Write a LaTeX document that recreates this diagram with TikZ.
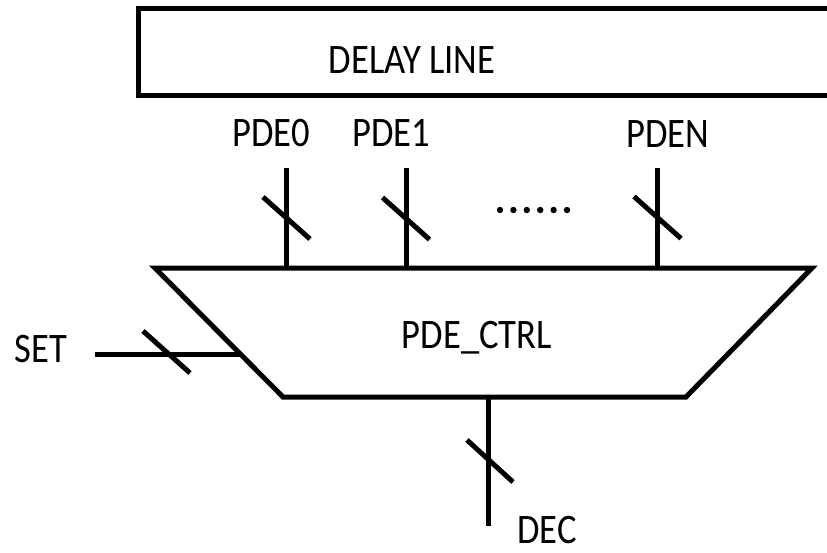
\documentclass[tikz,border=0pt]{standalone}
\usepackage{fontspec}
\setmainfont{Carlito}
\newfontfamily\labelfont[FakeStretch=0.87]{Carlito}
\tikzset{
  wire/.style={line width=5pt},
  busmark/.style={line width=5pt},
  lbl/.style={font=\labelfont\fontsize{42}{42}\selectfont, inner sep=0pt, anchor=base},
}
\begin{document}
\begin{tikzpicture}[x=1pt,y=-1pt]
\useasboundingbox (0,0) rectangle (827,552);

% delay line block, running off the right edge
\draw[wire] (138,8) rectangle (850,95);
\node[lbl] (dl) at (412,73) {DELAY LINE};

% control block outline
\coordinate (tl) at (155,268);
\coordinate (tr) at (812,268);
\coordinate (br) at (686,397);
\coordinate (bl) at (283,397);
\draw[wire, line join=miter] (tl) -- (tr) -- (br) -- (bl) -- cycle;
\node[lbl] (ctrl) at (477,348) {PDE\_CTRL};

% output buses
\node[lbl] (p0) at (271,146) {PDE0};
\node[lbl] (p1) at (391,146) {PDE1};
\node[lbl] (pn) at (668,147) {PDEN};
\coordinate (p0a) at (286.5,168); \coordinate (p0b) at (286.5,268);
\coordinate (p1a) at (406,168);   \coordinate (p1b) at (406,268);
\coordinate (pna) at (657.5,168); \coordinate (pnb) at (657.5,268);
\draw[wire] (p0a) -- (p0b);
\draw[wire] (p1a) -- (p1b);
\draw[wire] (pna) -- (pnb);
\foreach \c in {(286.5,218),(406,218.5),(657.5,217.5)}
  \draw[busmark] \c ++(-23.5,-21) -- ++(47,42);

% ellipsis between buses
\foreach \i in {0,...,5}
  \fill (500+\i*13.4,210) circle (3.2pt);

% SET input bus
\node[lbl] (set) at (41,362) {SET};
\coordinate (seta) at (95,354);
\coordinate (setb) at (240,354);
\draw[wire] (seta) -- (setb);
\draw[busmark] (166.5,352) ++(-23.5,-21) -- ++(47,42);

% DEC output bus
\coordinate (deca) at (488,397);
\coordinate (decb) at (488,526);
\draw[wire] (deca) -- (decb);
\draw[busmark] (490,461) ++(-23,-21) -- ++(46,42);
\node[lbl] (dec) at (547,543) {DEC};
\end{tikzpicture}
\end{document}
